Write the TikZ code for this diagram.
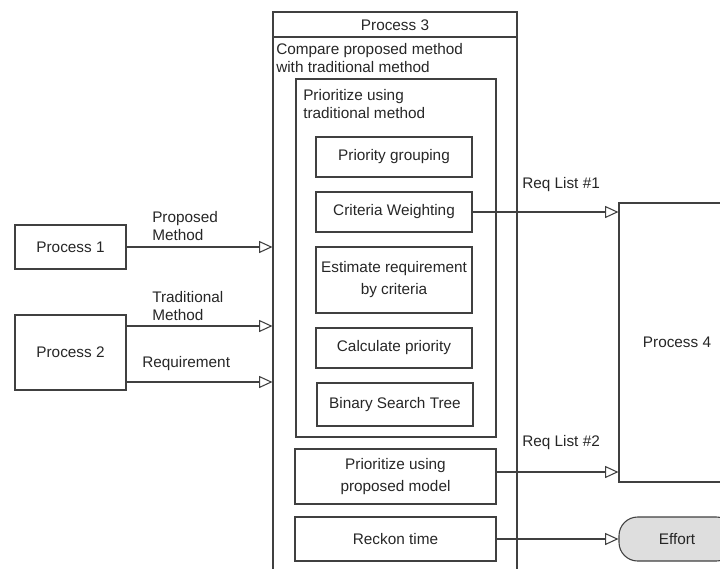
\documentclass[tikz,border=0pt]{standalone}
\usepackage{fontspec}
\setmainfont{Liberation Sans}
\usetikzlibrary{arrows.meta}
\begin{document}
\begin{tikzpicture}[x=0.75pt,y=-0.75pt,
  every node/.style={font=\fontsize{11.5}{13.2}\selectfont, text=black!85},
  box/.style n args={2}{draw=black!75, line width=0.8pt, inner sep=0pt, align=center,
    font=\fontsize{11.5}{16.5}\selectfont,
    minimum width=#1*0.75pt, minimum height=#2*0.75pt},
  lbl/.style={inner sep=0pt, align=left, anchor=west},
  arr/.style={draw=black!75, line width=0.8pt, -{Triangle[open, length=10pt, width=9pt, line width=0.8pt]}}]
\useasboundingbox (0,0) rectangle (720,568);
% left processes
\node[box={111}{44}] at (70.5,247) (p1) {Process 1};
\node[box={111}{75}] at (70.5,352.5) (p2) {Process 2};
% process 3 container
\node[box={244}{578}] at (395,301) (p3) {};
\draw[draw=black!75, line width=0.8pt] (p3.west |- 0,37) coordinate (d1) -- (p3.east |- 0,37) coordinate (d2);
\node at (395,25) (p3t) {Process 3};
\node[lbl] at (276,58) (cmp) {Compare proposed method\\with traditional method};
\node[box={200}{358}] at (396,258) (trad) {};
\node[lbl] at (303,104) (tradt) {Prioritize using\\traditional method};
\node[box={156}{40}] at (394,157) (pg) {Priority grouping};
\node[box={156}{40}] at (394,212) (cw) {Criteria Weighting};
\node[box={156}{66}] at (394,280) (er) {Estimate requirement\\by criteria};
\node[box={156}{40}] at (394,348) (cp) {Calculate priority};
\node[box={156}{43}] at (395,404.5) (bst) {Binary Search Tree};
\node[box={201}{55}] at (395.5,476.5) (pp) {Prioritize using\\proposed model};
\node[box={201}{44}] at (395.5,539) (rt) {Reckon time};
% process 4 and effort
\node[box={116}{279}] at (677,342.5) (p4) {Process 4};
\node[box={116}{44}, fill=black!13, rounded corners=14pt] at (677,539) (eff) {Effort};
% connectors
\coordinate (ty) at (0,326);
\coordinate (ry) at (0,382);
\coordinate (r2) at (0,472);
\draw[arr] (p1.east) -- (p1.east -| p3.west);
\draw[arr] (p2.east |- ty) -- (ty -| p3.west);
\draw[arr] (p2.east |- ry) -- (ry -| p3.west);
\draw[arr] (cw.east) -- (cw.east -| p4.west);
\draw[arr] (pp.east |- r2) -- (r2 -| p4.west);
\draw[arr] (rt.east) -- (eff.west);
% connector labels
\node[lbl] at (152,226) (l1) {Proposed\\Method};
\node[lbl] at (152,306) (l2) {Traditional\\Method};
\node[lbl] at (142,364) (l3) {Requirement};
\node[lbl] at (522,185) (l4) {Req List \#1};
\node[lbl] at (522,443) (l5) {Req List \#2};
\end{tikzpicture}
\end{document}
